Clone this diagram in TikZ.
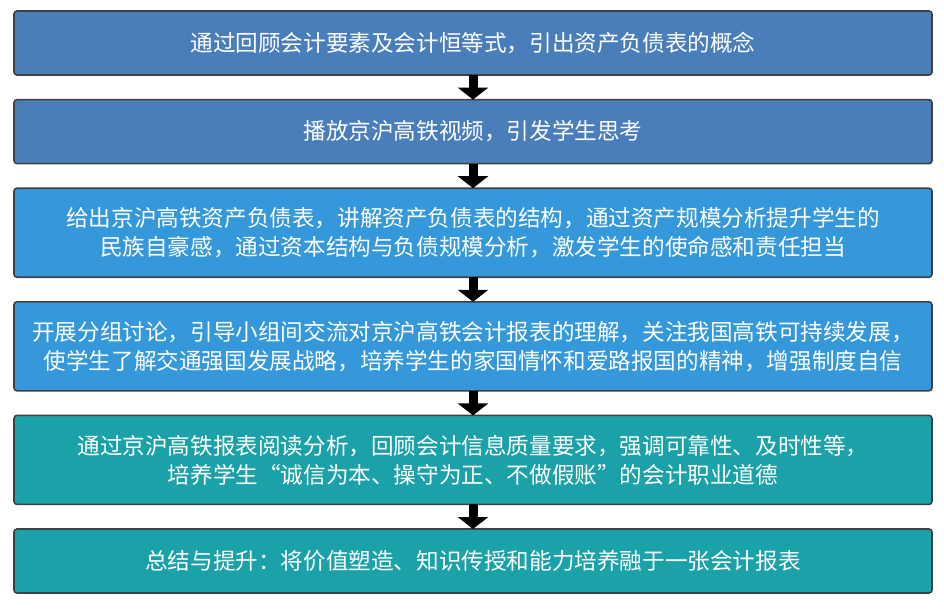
\documentclass[tikz,border=0pt]{standalone}
\usepackage{fontspec}
\newfontfamily\cjk{Noto Sans CJK SC}
\usepackage{tikz}
\usetikzlibrary{positioning, arrows.meta}

\definecolor{stepblue}{RGB}{74,126,187}
\definecolor{steplight}{RGB}{52,152,219}
\definecolor{stepteal}{RGB}{27,161,168}

\begin{document}
\begin{tikzpicture}[x=1pt,y=1pt,
  stage/.style={draw=black!75, line width=1.6pt, rounded corners=3pt,
    minimum width=918pt, minimum height=64pt, inner sep=0pt, outer sep=0pt,
    align=center, text=white,
    font=\cjk\fontsize{22.6pt}{29pt}\selectfont},
  tall/.style={minimum height=89pt},
  down/.style={line width=9pt, -{Triangle[width=30pt,length=12pt]}, black}]

  \useasboundingbox (0,0) rectangle (944,-608);

  \node[stage, fill=stepblue] (box_1) at (473,-43)
    {通过回顾会计要素及会计恒等式，引出资产负债表的概念};
  \node[stage, fill=stepblue, below=24.6pt of box_1] (box_2)
    {播放京沪高铁视频，引发学生思考};

  %==================================================

  \node[stage, tall, fill=steplight, below=24.6pt of box_2] (box_3)
    {给出京沪高铁资产负债表，讲解资产负债表的结构，通过资产规模分析提升学生的\\
     民族自豪感，通过资本结构与负债规模分析，激发学生的使命感和责任担当};
  \node[stage, tall, fill=steplight, below=24.6pt of box_3] (box_4)
    {开展分组讨论，引导小组间交流对京沪高铁会计报表的理解，关注我国高铁可持续发展，\\
     使学生了解交通强国发展战略，培养学生的家国情怀和爱路报国的精神，增强制度自信};

  %==================================================

  \node[stage, tall, fill=stepteal, below=24.6pt of box_4] (box_5)
    {通过京沪高铁报表阅读分析，回顾会计信息质量要求，强调可靠性、及时性等，\\
     培养学生“诚信为本、操守为正、不做假账”的会计职业道德};
  \node[stage, fill=stepteal, below=24.6pt of box_5] (box_6)
    {总结与提升：将价值塑造、知识传授和能力培养融于一张会计报表};

  %==================================================

  \draw[down] (box_1.south) -- (box_2.north);
  \draw[down] (box_2.south) -- (box_3.north);
  \draw[down] (box_3.south) -- (box_4.north);
  \draw[down] (box_4.south) -- (box_5.north);
  \draw[down] (box_5.south) -- (box_6.north);

\end{tikzpicture}
\end{document}
